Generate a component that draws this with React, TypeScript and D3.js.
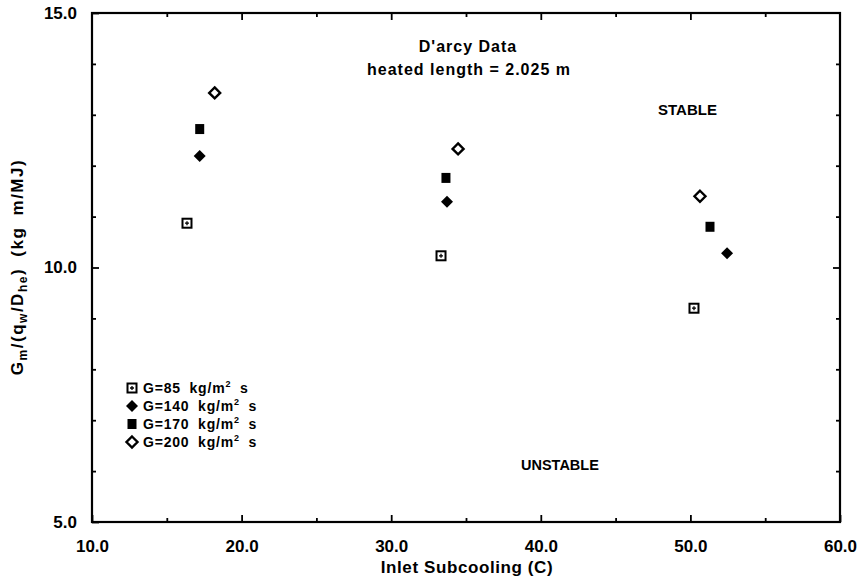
import { useEffect, useRef } from 'react'
import * as d3 from 'd3'

// Inlet subcooling (C) for each mass flux series
const G85_X = [16.35, 33.33, 50.24]
const G140_X = [17.2, 33.73, 52.45]
const G170_X = [17.2, 33.66, 51.31]
const G200_X = [18.2, 34.47, 50.64]

// Gm/(qw/Dhe) (kg m/MJ)
const G85_Y = [10.87, 10.23, 9.2]
const G140_Y = [12.19, 11.29, 10.28]
const G170_Y = [12.72, 11.76, 10.8]
const G200_Y = [13.43, 12.33, 11.4]

const SERIES = [
  { key: 'squareDot', label: 'G=85', xs: G85_X, ys: G85_Y },
  { key: 'diamondFill', label: 'G=140', xs: G140_X, ys: G140_Y },
  { key: 'squareFill', label: 'G=170', xs: G170_X, ys: G170_Y },
  { key: 'diamondOpen', label: 'G=200', xs: G200_X, ys: G200_Y },
]

const X_MAJOR = [10, 20, 30, 40, 50, 60]
const Y_MAJOR = [5, 10, 15]

const W = 858
const H = 582
const FONT = '"Liberation Sans", Arial, sans-serif'

type Sel = d3.Selection<SVGGElement, unknown, null, undefined>

function drawMarker(g: Sel, kind: string, cx: number, cy: number) {
  if (kind === 'squareDot') {
    g.append('rect')
      .attr('x', cx - 4.5).attr('y', cy - 4.5)
      .attr('width', 9).attr('height', 9)
      .attr('fill', 'none').attr('stroke', '#000').attr('stroke-width', 2)
    g.append('path')
      .attr('d', `M${cx - 2},${cy}H${cx + 2}M${cx},${cy - 2}V${cy + 2}`)
      .attr('stroke', '#000').attr('stroke-width', 1.3)
  } else if (kind === 'squareFill') {
    g.append('rect')
      .attr('x', cx - 4.5).attr('y', cy - 5)
      .attr('width', 9).attr('height', 10)
      .attr('fill', '#000')
  } else if (kind === 'diamondFill') {
    const r = 6
    g.append('path')
      .attr('d', `M${cx},${cy - r}L${cx + r},${cy}L${cx},${cy + r}L${cx - r},${cy}Z`)
      .attr('fill', '#000')
  } else {
    const r = 5.5
    g.append('path')
      .attr('d', `M${cx},${cy - r}L${cx + r},${cy}L${cx},${cy + r}L${cx - r},${cy}Z`)
      .attr('fill', '#fff').attr('stroke', '#000').attr('stroke-width', 2.4)
  }
}

export default function App() {
  const ref = useRef<SVGSVGElement | null>(null)

  useEffect(() => {
    if (!ref.current) return
    const svg = d3.select(ref.current)
    svg.selectAll('*').remove()

    const x = d3.scaleLinear().domain([10, 60]).range([92, 840])
    const y = d3.scaleLinear().domain([5, 15]).range([522, 13])

    const root = svg.append('g') as unknown as Sel

    // frame
    root.append('rect')
      .attr('x', x(10)).attr('y', y(15))
      .attr('width', x(60) - x(10)).attr('height', y(5) - y(15))
      .attr('fill', 'none').attr('stroke', '#000').attr('stroke-width', 2.2)

    const xMinor = d3.range(15, 60, 10)
    const yMinor = d3.range(6, 15, 1).filter(v => v !== 10)

    const styleAxis = (a: Sel) => {
      a.select('.domain').remove()
      a.selectAll('.tick line').attr('stroke', '#000').attr('stroke-width', 1.8)
      a.selectAll('.tick text')
        .attr('fill', '#000')
        .attr('font-family', FONT)
        .attr('font-weight', 'bold')
        .attr('font-size', 17)
    }

    // bottom axis
    const bottom = root.append('g').attr('transform', `translate(0,${y(5)})`) as unknown as Sel
    bottom.call(d3.axisBottom(x).tickValues(X_MAJOR).tickSizeInner(-7).tickSizeOuter(0).tickPadding(18).tickFormat(d3.format('.1f')))
    styleAxis(bottom)
    const bottomMinor = root.append('g').attr('transform', `translate(0,${y(5)})`) as unknown as Sel
    bottomMinor.call(d3.axisBottom(x).tickValues(xMinor).tickSizeInner(-4).tickSizeOuter(0).tickFormat(() => ''))
    styleAxis(bottomMinor)

    // top axis
    const top = root.append('g').attr('transform', `translate(0,${y(15)})`) as unknown as Sel
    top.call(d3.axisTop(x).tickValues(X_MAJOR.slice(1, -1)).tickSizeInner(-7).tickSizeOuter(0).tickFormat(() => ''))
    styleAxis(top)
    const topMinor = root.append('g').attr('transform', `translate(0,${y(15)})`) as unknown as Sel
    topMinor.call(d3.axisTop(x).tickValues(xMinor).tickSizeInner(-4).tickSizeOuter(0).tickFormat(() => ''))
    styleAxis(topMinor)

    // left axis
    const left = root.append('g').attr('transform', `translate(${x(10)},0)`) as unknown as Sel
    left.call(d3.axisLeft(y).tickValues(Y_MAJOR).tickSizeInner(-7).tickSizeOuter(0).tickPadding(15).tickFormat(d3.format('.1f')))
    styleAxis(left)
    const leftMinor = root.append('g').attr('transform', `translate(${x(10)},0)`) as unknown as Sel
    leftMinor.call(d3.axisLeft(y).tickValues(yMinor).tickSizeInner(-4).tickSizeOuter(0).tickFormat(() => ''))
    styleAxis(leftMinor)

    // right axis
    const right = root.append('g').attr('transform', `translate(${x(60)},0)`) as unknown as Sel
    right.call(d3.axisRight(y).tickValues([10]).tickSizeInner(-7).tickSizeOuter(0).tickFormat(() => ''))
    styleAxis(right)
    const rightMinor = root.append('g').attr('transform', `translate(${x(60)},0)`) as unknown as Sel
    rightMinor.call(d3.axisRight(y).tickValues(yMinor).tickSizeInner(-4).tickSizeOuter(0).tickFormat(() => ''))
    styleAxis(rightMinor)

    // data points
    const marks = root.append('g') as unknown as Sel
    SERIES.forEach(s => {
      s.xs.forEach((xv, i) => drawMarker(marks, s.key, x(xv), y(s.ys[i])))
    })

    // legend
    const legend = root.append('g') as unknown as Sel
    const legendY = [388, 406, 424, 442]
    SERIES.forEach((s, i) => {
      drawMarker(legend, s.key, 132, legendY[i])
      const t = legend.append('text')
        .attr('x', 143).attr('y', legendY[i] + 5)
        .attr('font-family', FONT).attr('font-weight', 'bold').attr('font-size', 14)
        .attr('letter-spacing', 0.8).attr('word-spacing', 4)
      t.append('tspan').text(`${s.label} kg/m`)
      t.append('tspan').attr('font-size', 9).attr('dy', -6).text('2')
      t.append('tspan').attr('dy', 6).text(' s')
    })

    const label = (txt: string, px: number, py: number, size: number, anchor = 'middle', spacing = 0) =>
      root.append('text')
        .attr('x', px).attr('y', py)
        .attr('text-anchor', anchor)
        .attr('font-family', FONT).attr('font-weight', 'bold')
        .attr('font-size', size).attr('letter-spacing', spacing)
        .text(txt)

    label("D'arcy Data", 468, 52, 16, 'middle', 1)
    label('heated length = 2.025 m', 469, 75, 16, 'middle', 1)
    label('STABLE', 658, 115, 15, 'start')
    label('UNSTABLE', 521, 470, 14.5, 'start')
    label('Inlet Subcooling (C)', 467, 573, 17, 'middle', 0.6)

    // y axis title with subscripts
    const yt = root.append('text')
      .attr('transform', 'translate(23,267) rotate(-90)')
      .attr('text-anchor', 'middle')
      .attr('font-family', FONT).attr('font-weight', 'bold')
      .attr('font-size', 17).attr('letter-spacing', 1.5).attr('word-spacing', 5)
    const part = (txt: string, sub = false) =>
      yt.append('tspan')
        .attr('font-size', sub ? 12 : 17)
        .attr('dy', sub ? 4 : 0)
        .text(txt)
    part('G')
    part('m', true)
    yt.append('tspan').attr('dy', -4).text('/(q')
    part('w', true)
    yt.append('tspan').attr('dy', -4).text('/D')
    part('he', true)
    yt.append('tspan').attr('dy', -4).text(') (kg m/MJ)')
  }, [])

  return (
    <svg
      ref={ref}
      width={W}
      height={H}
      style={{ position: 'absolute', left: 0, top: 0, background: '#fff' }}
    />
  )
}
